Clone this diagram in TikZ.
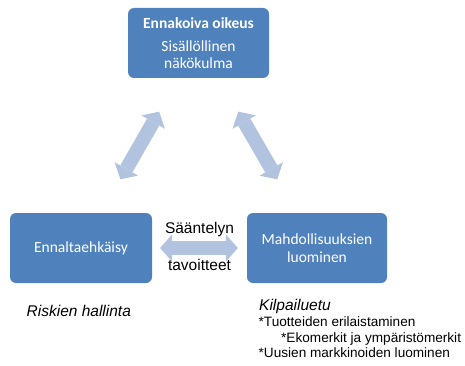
\documentclass[tikz,border=0pt]{standalone}
\usepackage{fontspec}
\setmainfont{Liberation Sans}
\newfontfamily\boxfont{Carlito}
\usetikzlibrary{arrows.meta,calc}
\definecolor{boxblue}{HTML}{4F81BD}
\definecolor{linkblue}{HTML}{B1C3DF}
\begin{document}
\begin{tikzpicture}[x=1pt,y=-1pt,
  box/.style={rounded corners=6pt, fill=boxblue, text=white, minimum height=70pt,
    align=center, inner sep=2pt, font=\boxfont\fontsize{15.5}{18}\selectfont},
  link/.style={draw=linkblue, line width=14pt,
    {Triangle[length=12pt,width=27pt,line width=0pt]}-{Triangle[length=12pt,width=27pt,line width=0pt]}},
  caption/.style={inner sep=0pt, font=\fontsize{15.5}{18}\selectfont},
  item/.style={inner sep=0pt, anchor=base west, font=\fontsize{13.6}{15}\selectfont}
]
\useasboundingbox (0,0) rectangle (465,366);

% the three stages
\node[box, minimum width=141pt] (top) at (198.5,43)
  {\textbf{Ennakoiva oikeus}\\[5pt]Sisällöllinen\\[-1pt]näkökulma};
\node[box, minimum width=142pt] (left) at (81,248) {Ennaltaehkäisy};
\node[box, minimum width=140pt] (right) at (317,248) {Mahdollisuuksien\\luominen};

% two-way links between the stages
\draw[link] ($(left)!0.335!(top)$) -- ($(left)!0.665!(top)$);
\draw[link] ($(top)!0.335!(right)$) -- ($(top)!0.665!(right)$);
\draw[link] ($(left)!0.335!(right)$) -- ($(left)!0.665!(right)$);

% label of the horizontal link
\node[caption, anchor=base] (goal1) at (199.5,233) {Sääntelyn};
\node[caption, anchor=base] (goal2) at (199.5,270) {tavoitteet};

% notes under the lower boxes
\node[caption, anchor=base west, font=\fontsize{15.5}{18}\selectfont\itshape] (risk) at (26.5,316) {Riskien hallinta};
\node[caption, anchor=base west, font=\fontsize{15.5}{18}\selectfont\itshape] (edge) at (259,310) {Kilpailuetu};
\node[item] (i1) at (258.5,326.5) {*Tuotteiden erilaistaminen};
\node[item] (i2) at (281,342) {*Ekomerkit ja ympäristömerkit};
\node[item] (i3) at (258.5,357.5) {*Uusien markkinoiden luominen};
\end{tikzpicture}
\end{document}
